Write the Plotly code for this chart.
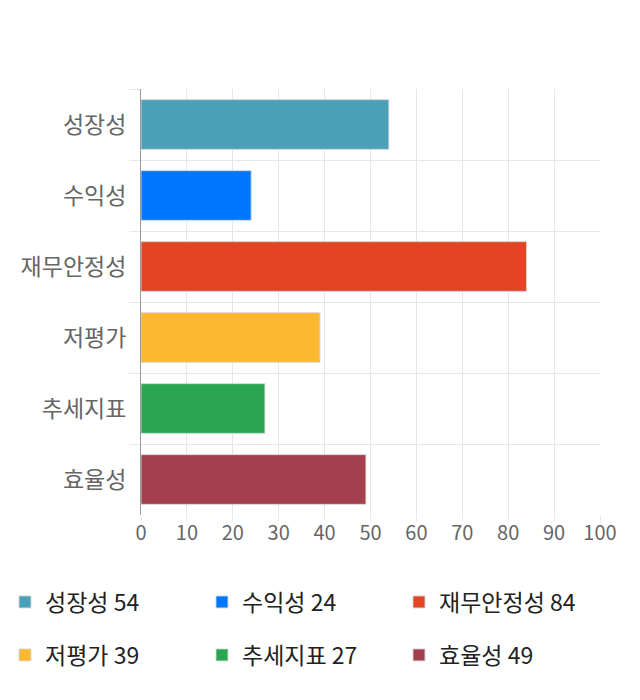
import plotly.graph_objects as go

categories = ["성장성", "수익성", "재무안정성", "저평가", "추세지표", "효율성"]
values = [54, 24, 84, 39, 27, 49]
colors = ["#4aa0b9", "#0077ff", "#e24424", "#fdb832", "#2aa653", "#a4404e"]
x_ticks = [0, 10, 20, 30, 40, 50, 60, 70, 80, 90, 100]

FONT = "Noto Sans CJK KR"

fig = go.Figure()
for i, (cat, val, col) in enumerate(zip(categories, values, colors)):
    fig.add_trace(go.Bar(
        y=[cat], x=[val], orientation="h", name=f"{cat} {val}",
        marker=dict(color=col, line=dict(color="rgba(215,215,215,0.9)", width=1)),
        width=0.7, hoverinfo="skip",
        legend="legend" if i < 3 else "legend2",
    ))

legend_common = dict(
    orientation="h", xref="paper", yref="paper",
    x=-0.2963, xanchor="left", yanchor="middle",
    entrywidth=152, entrywidthmode="pixels",
    font=dict(size=23, color="#222", family=FONT),
    traceorder="normal", itemclick=False, itemdoubleclick=False,
    bgcolor="rgba(0,0,0,0)",
)

fig.update_layout(
    width=640, height=700,
    margin=dict(l=133, r=48, t=81, b=193, autoexpand=False),
    plot_bgcolor="white", paper_bgcolor="white",
    barmode="overlay",
    font=dict(family=FONT, color="#666"),
    showlegend=True,
    legend=dict(legend_common, y=-0.2042),
    legend2=dict(legend_common, y=-0.3286),
)
fig.update_yaxes(
    categoryorder="array", categoryarray=categories, autorange="reversed",
    tickson="boundaries", ticks="outside", ticklen=11, tickcolor="#e6e6e6",
    showgrid=True, gridcolor="#e6e6e6", gridwidth=1,
    showline=True, linecolor="#999", linewidth=1,
    tickfont=dict(size=23, color="#666", family=FONT),
    ticklabelstandoff=9, automargin=False,
)
fig.update_xaxes(
    range=[0, 100], tickvals=x_ticks, ticks="outside", ticklen=5, tickcolor="#e6e6e6",
    showgrid=True, gridcolor="#e6e6e6", gridwidth=1, zeroline=False,
    showline=False, automargin=False,
    tickfont=dict(size=20, color="#666", family=FONT),
    ticklabelstandoff=-5,
)

fig.write_html("out.html")
